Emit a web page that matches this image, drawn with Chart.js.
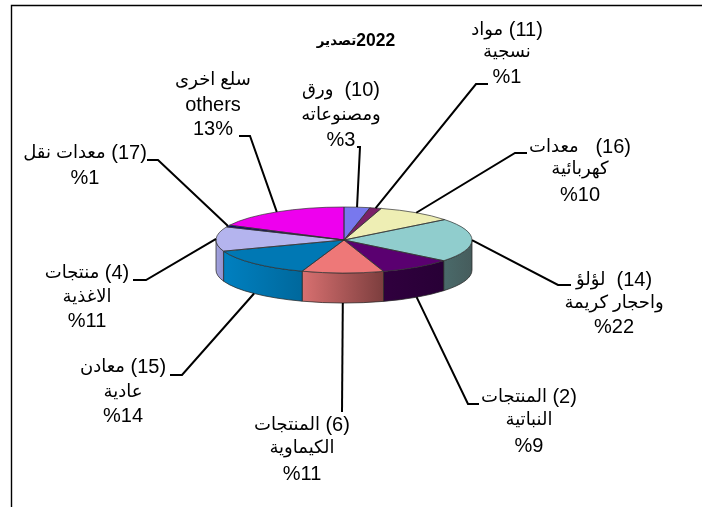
<!DOCTYPE html>
<html lang="ar">
<head>
<meta charset="utf-8">
<style>
  html, body { margin: 0; padding: 0; background: #fff; }
  #wrap { width: 702px; height: 507px; }
</style>
<script src="https://cdn.jsdelivr.net/npm/chart.js@4"></script>
</head>
<body>
<div id="wrap"><canvas id="chart" width="702" height="507"></canvas></div>
<script>
const chartTitle = "2022تصدير";

// clockwise from 12 o'clock
const categories = [
  ["(10)  ورق", "ومصنوعاته"],
  ["(11) مواد", "نسجية"],
  ["(16)   معدات", "كهربائية"],
  ["(14)  لؤلؤ", "واحجار كريمة"],
  ["(2) المنتجات", "النباتية"],
  ["(6) المنتجات", "الكيماوية"],
  ["(15) معادن", "عادية"],
  ["(4) منتجات", "الاغذية"],
  ["(17) معدات نقل"],
  ["سلع اخرى", "others"]
];
const percentLabels = ["%3", "%1", "%10", "%22", "%9", "%11", "%14", "%11", "%1", "13%"];
// slice sizes as measured off the drawn pie (the printed percents do not add to 100)
const sliceValues = [3.25, 1.45, 9.7, 21.4, 9.2, 10.3, 14.2, 12, 0.9, 17.6];

const topColors = ["#7878ee", "#7b2068", "#eeeeb4", "#90cdcd", "#5a0070", "#ee7878", "#0078b4", "#b4b4ee", "#000080", "#ee00ee"];
const wallColors = {
  3: ["#4a6a6a", "#465c5c"],
  4: ["#30003e", "#280036"],
  5: ["#d87070", "#7c3e3e"],
  6: ["#0080c0", "#00689c"],
  7: ["#a4a4e0", "#9090cc"]
};

// where each leader line bends and ends, and where its text block sits
const leaders = [
  { bend: [360, 147], end: [357, 147], tx: 341, ty: [90, 115, 140] },
  { bend: [476, 84], end: [488, 84], tx: 507, ty: [30, 52, 77] },
  { bend: [515, 153], end: [527, 153], tx: 580, ty: [147, 169, 195] },
  { bend: [558, 285], end: [571, 285], tx: 614, ty: [280, 303, 327] },
  { bend: [468, 404], end: [479, 404], tx: 529, ty: [397, 420, 446] },
  { bend: [342, 412], end: [342, 412], tx: 302, ty: [425, 448, 474] },
  { bend: [182, 375], end: [170, 375], tx: 123, ty: [367, 392, 416] },
  { bend: [146, 280], end: [133, 280], tx: 87, ty: [273, 297, 321] },
  { bend: [158, 160], end: [147, 160], tx: 85, ty: [153, 178] },
  { bend: [250, 136], end: [239, 136], tx: 213, ty: [80, 105, 129] }
];

const squash = 33 / 128;
const depth = 30;
const textFont = '"Liberation Sans", "DejaVu Sans", sans-serif';

// the fallback Arabic face runs larger than the latin one, so a number and
// the Arabic beside it get their own sizes; the number stays on the right
function drawRow(ctx, row, x, y, numFont, arFont) {
  const m = row.match(/^(\(?\d+\)?)(\s*)([\u0600-\u06ff].*)$/);
  if (!m) {
    ctx.font = /[\u0600-\u06ff]/.test(row) ? arFont : numFont;
    ctx.textAlign = "center";
    ctx.fillText(row, x, y);
    return;
  }
  ctx.font = numFont;
  const numW = ctx.measureText(m[1]).width;
  const gap = ctx.measureText(m[2]).width;
  ctx.font = arFont;
  const arW = ctx.measureText(m[3]).width;
  const left = x - (numW + gap + arW) / 2;
  ctx.textAlign = "left";
  ctx.fillText(m[3], left, y);
  ctx.font = numFont;
  ctx.fillText(m[1], left + arW + gap, y);
}

const pie3d = {
  id: "pie3d",
  beforeDraw(chart) {
    const ctx = chart.ctx;
    ctx.save();
    ctx.strokeStyle = "#000";
    ctx.lineWidth = 1.4;
    ctx.beginPath();
    ctx.moveTo(11.5, 507);
    ctx.lineTo(11.5, 5.5);
    ctx.lineTo(702, 5.5);
    ctx.stroke();
    ctx.restore();
  },
  beforeDatasetsDraw(chart) {
    const ctx = chart.ctx;
    const arcs = chart.getDatasetMeta(0).data;

    // side wall of the slices facing the viewer
    arcs.forEach((arc, i) => {
      const a0 = Math.max(arc.startAngle, 0);
      const a1 = Math.min(arc.endAngle, Math.PI);
      if (a1 <= a0) return;
      const rx = arc.outerRadius, ry = rx * squash;
      const g = ctx.createLinearGradient(arc.x + rx * Math.cos(a0), 0, arc.x + rx * Math.cos(a1), 0);
      const c = wallColors[i] || [topColors[i], topColors[i]];
      g.addColorStop(0, c[1]);
      g.addColorStop(1, c[0]);
      ctx.beginPath();
      ctx.ellipse(arc.x, arc.y, rx, ry, 0, a0, a1);
      ctx.ellipse(arc.x, arc.y + depth, rx, ry, 0, a1, a0, true);
      ctx.closePath();
      ctx.fillStyle = g;
      ctx.fill();
      ctx.strokeStyle = "rgba(40,40,40,0.75)";
      ctx.lineWidth = 1;
      ctx.stroke();
    });

    const a = arcs[0];
    ctx.save();
    ctx.translate(a.x, a.y);
    ctx.scale(1, squash);
    ctx.translate(-a.x, -a.y);
  },
  afterDatasetsDraw(chart) {
    const ctx = chart.ctx;
    ctx.restore();
    const arcs = chart.getDatasetMeta(0).data;

    // crisp rim and spokes, the squash makes the library's own border too faint
    arcs.forEach(arc => {
      const rx = arc.outerRadius, ry = rx * squash;
      ctx.beginPath();
      ctx.moveTo(arc.x, arc.y);
      ctx.ellipse(arc.x, arc.y, rx, ry, 0, arc.startAngle, arc.endAngle);
      ctx.closePath();
      ctx.strokeStyle = "rgba(50,50,50,0.7)";
      ctx.lineWidth = 1;
      ctx.stroke();
    });

    // leader lines, from each slice's mid angle out to its text
    ctx.strokeStyle = "#000";
    ctx.lineWidth = 2;
    ctx.lineJoin = "miter";
    arcs.forEach((arc, i) => {
      const mid = (arc.startAngle + arc.endAngle) / 2;
      const rx = arc.outerRadius, ry = rx * squash;
      const sx = arc.x + rx * Math.cos(mid);
      let sy = arc.y + ry * Math.sin(mid);
      if (Math.sin(mid) > 0.1) sy += depth;
      const l = leaders[i];
      ctx.beginPath();
      ctx.moveTo(sx, sy);
      ctx.lineTo(l.bend[0], l.bend[1]);
      ctx.lineTo(l.end[0], l.end[1]);
      ctx.stroke();
    });

    ctx.fillStyle = "#000";
    ctx.textBaseline = "middle";
    ctx.direction = "rtl";
    categories.forEach((lines, i) => {
      const l = leaders[i];
      lines.concat(percentLabels[i]).forEach((row, r) => {
        drawRow(ctx, row, l.tx, l.ty[r], "20px " + textFont, "18px " + textFont);
      });
    });

    drawRow(ctx, chartTitle, 356, 41, "bold 17.5px " + textFont, "bold 13.5px " + textFont);
  }
};

new Chart(document.getElementById("chart"), {
  type: "pie",
  data: {
    labels: categories.map(c => c.join(" ")),
    datasets: [{
      data: sliceValues,
      backgroundColor: topColors,
      borderWidth: 0,
      clip: false
    }]
  },
  options: {
    responsive: false,
    animation: false,
    layout: { padding: { left: 216, right: 230, top: 112, bottom: 139 } },
    plugins: { legend: { display: false }, tooltip: { enabled: false }, title: { display: false } }
  },
  plugins: [pie3d]
});
</script>
</body>
</html>
